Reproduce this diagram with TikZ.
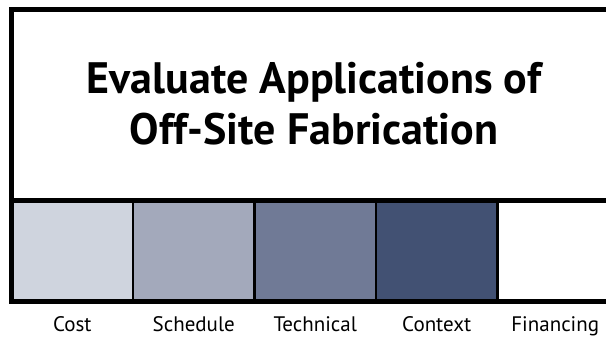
\documentclass[tikz,border=0pt]{standalone}
\usepackage{fontspec}
\setmainfont{PT Sans}
\usetikzlibrary{positioning}
\definecolor{costcol}{RGB}{207,212,222}
\definecolor{schedcol}{RGB}{163,169,187}
\definecolor{techcol}{RGB}{112,122,150}
\definecolor{contextcol}{RGB}{66,81,115}
\begin{document}
\begin{tikzpicture}[x=1pt,y=-1pt,
  factor/.style={draw=black,line width=2.5pt,minimum width=121.5pt,minimum height=101pt,inner sep=0pt,outer sep=0pt},
  caption/.style={font=\fontsize{21}{24}\selectfont}]
\useasboundingbox (0,0) rectangle (606,337);
% title panel
\node[font=\bfseries\fontsize{44}{51}\selectfont,align=center] (title) at (314,104) {Evaluate Applications of\\Off-Site Fabrication};
% factor boxes
\node[factor,fill=costcol,anchor=north west] (cost) at (11.5,200.5) {};
\node[factor,fill=schedcol,right=0pt of cost] (schedule) {};
\node[factor,fill=techcol,right=0pt of schedule] (technical) {};
\node[factor,fill=contextcol,right=0pt of technical] (context) {};
\node[factor,fill=white,right=0pt of context] (financing) {};
% frame
\draw[line width=5pt] (606,9.5) -- (11.5,9.5) -- (11.5,301.5) -- (606,301.5);
\draw[line width=5pt] (cost.north west) -- (606,200.5);
% labels
\node[caption,below=12pt of cost] (costlbl) {Cost};
\node[caption,below=12pt of schedule] (schedlbl) {Schedule};
\node[caption,below=12pt of technical] (techlbl) {Technical};
\node[caption,below=12pt of context] (contextlbl) {Context};
\node[caption,below=12pt of financing,xshift=-3pt] (finlbl) {Financing};
\end{tikzpicture}
\end{document}
